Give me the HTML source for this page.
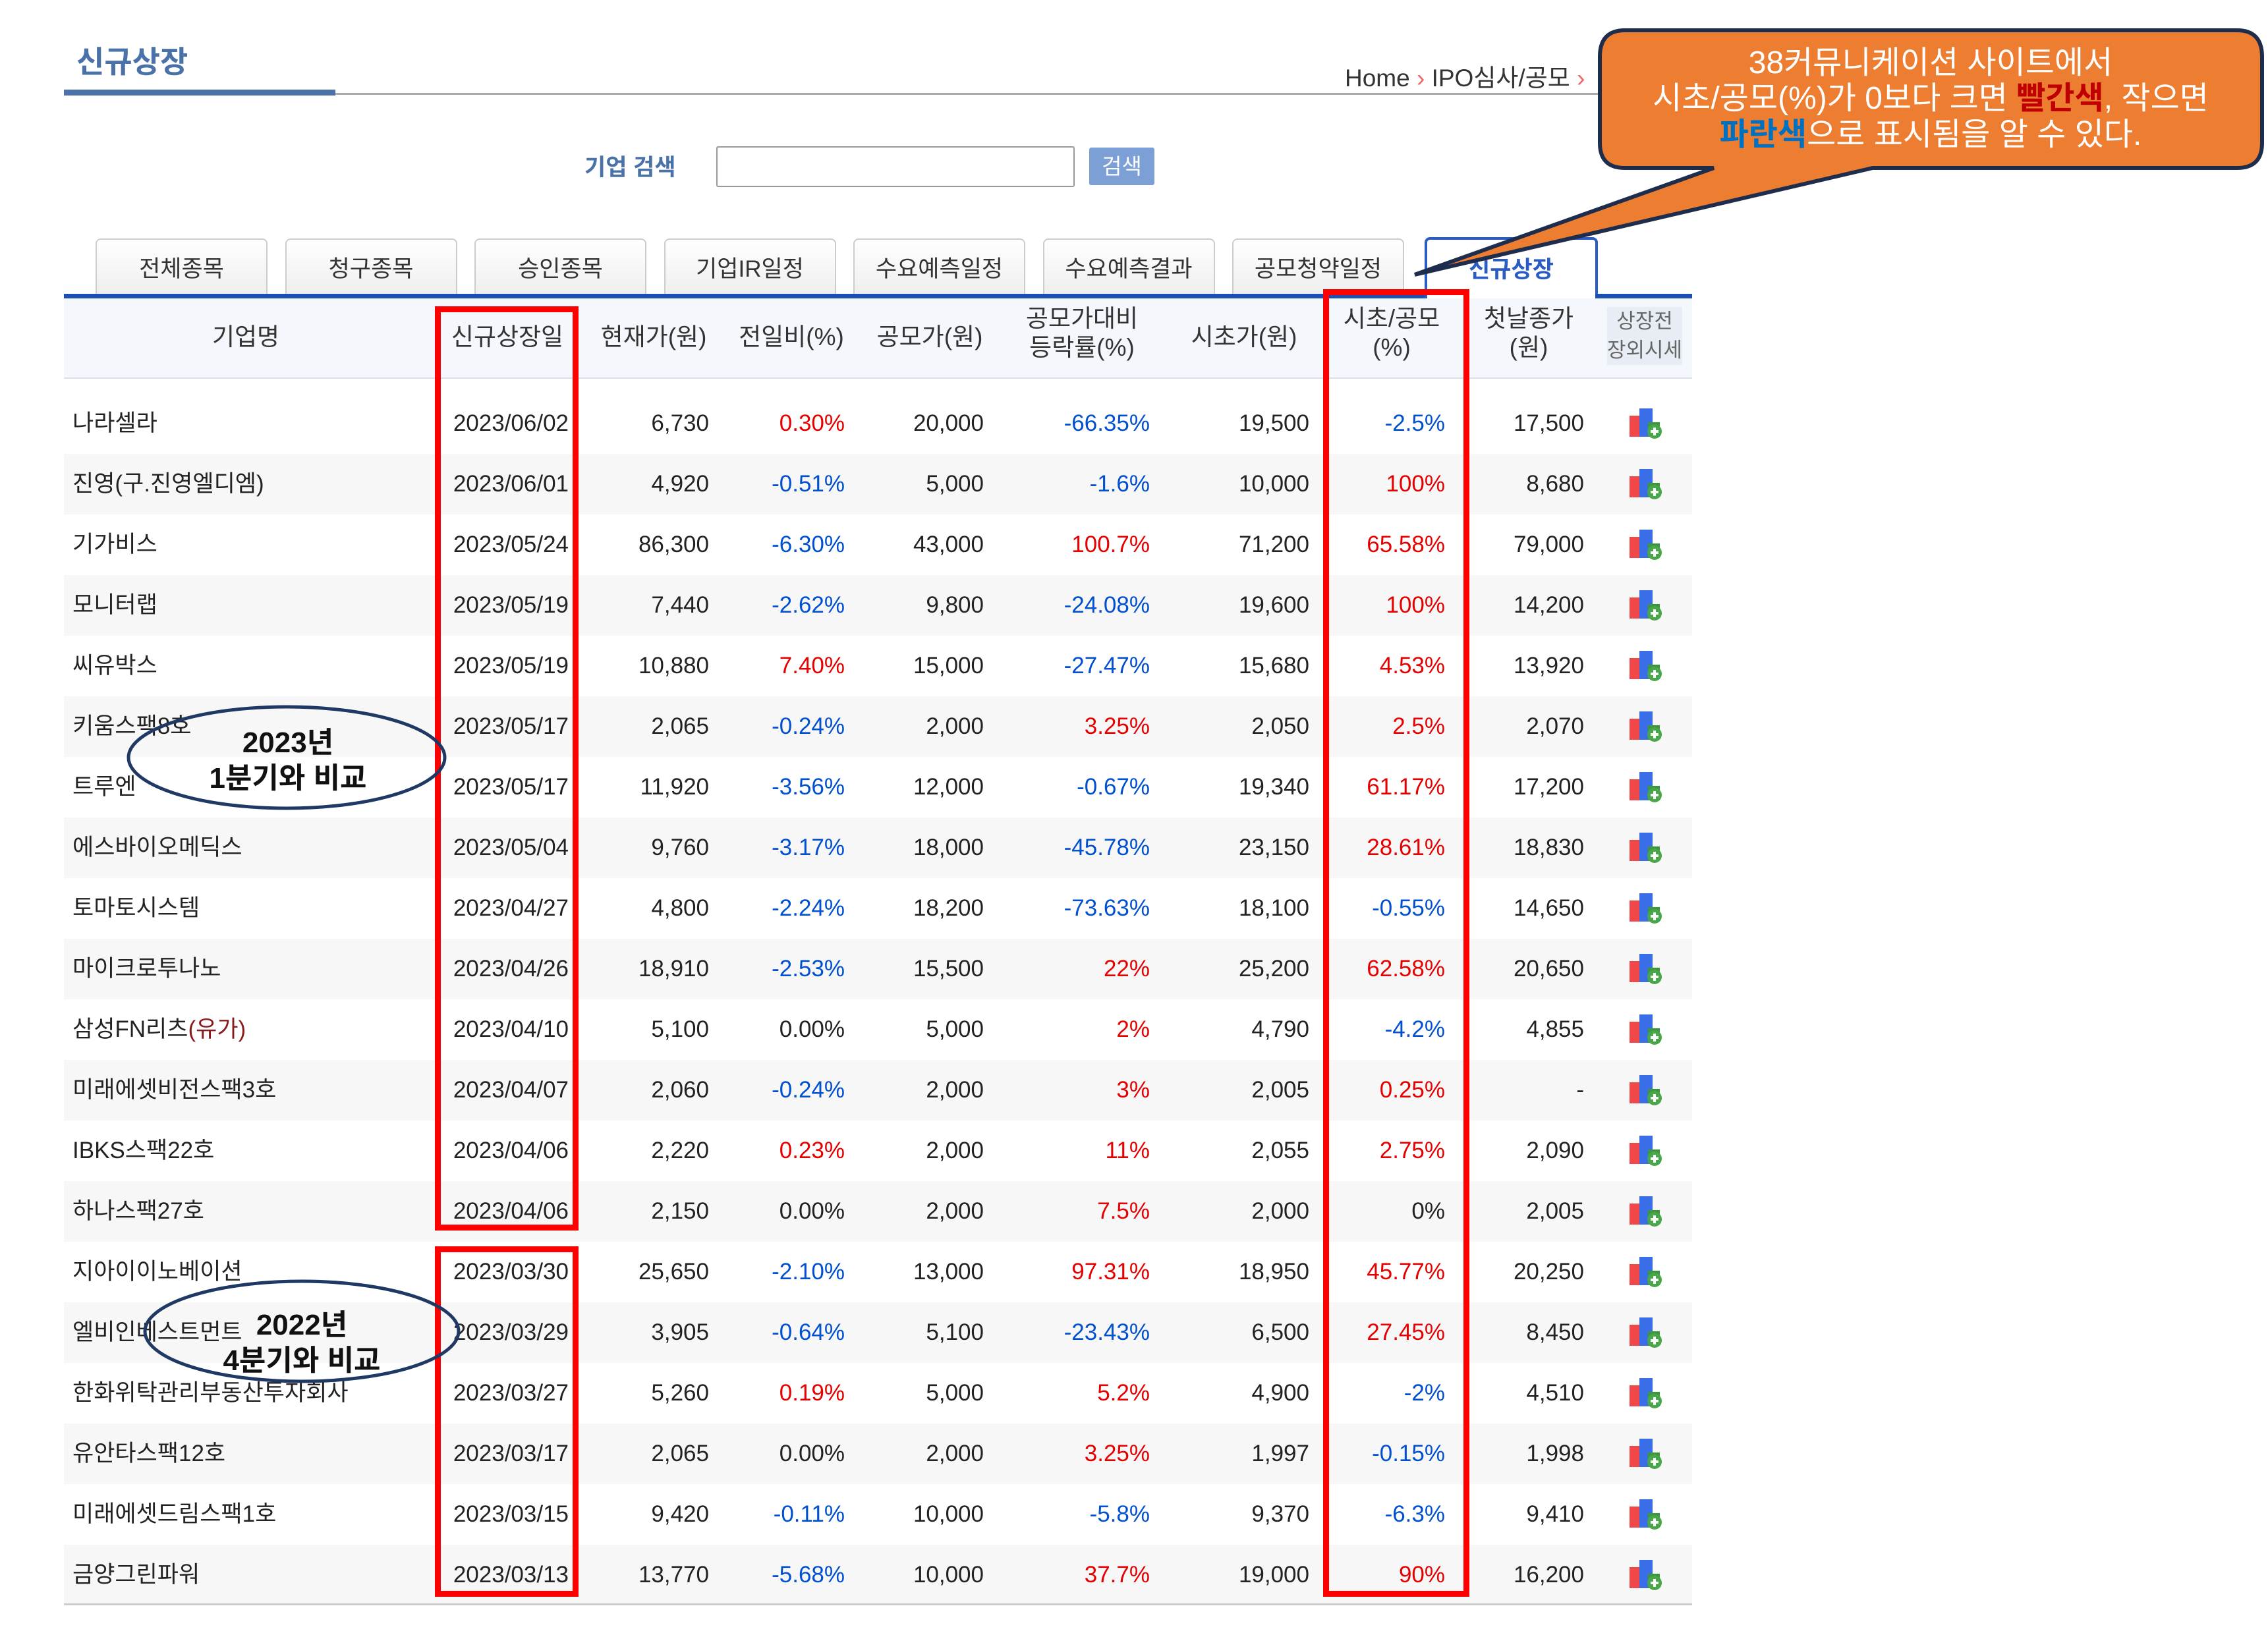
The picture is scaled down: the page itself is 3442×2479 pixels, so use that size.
<!DOCTYPE html>
<html><head><meta charset="utf-8">
<style>
body{margin:0;width:3442px;height:2479px;background:#fff;position:relative;overflow:hidden;font-family:"Liberation Sans","Noto Sans CJK KR",sans-serif;}
.a{position:absolute;}
.cell{position:absolute;font-size:35px;line-height:92px;height:92px;white-space:nowrap;color:#222;}
.th{position:absolute;font-size:37px;color:#333;text-align:center;transform:translateX(-50%);line-height:44px;white-space:nowrap;}
.tab{position:absolute;top:362px;height:84px;width:257px;border:2px solid #ccc;border-bottom:none;border-radius:8px 8px 0 0;background:linear-gradient(#fff,#eee);font-size:35px;color:#333;text-align:center;line-height:90px;}
</style></head><body>
<div class="a" style="left:116px;top:58px;font-size:46px;color:#4a72a8;font-weight:bold;">신규상장</div>
<div class="a" style="left:97px;top:136px;width:412px;height:9px;background:#4a72a8;"></div>
<div class="a" style="left:509px;top:141px;width:1916px;height:3px;background:#aaa;"></div>
<div class="a" style="left:2041px;top:88px;font-size:37px;color:#333;">Home <span style="color:#e66">›</span> IPO심사/공모 <span style="color:#e66">›</span></div>

<div class="a" style="left:887px;top:226px;font-size:35px;color:#4a72a8;font-weight:bold;">기업 검색</div>
<div class="a" style="left:1087px;top:222px;width:540px;height:58px;border:2px solid #999;border-radius:3px;"></div>
<div class="a" style="left:1653px;top:224px;width:99px;height:57px;background:#7c9fd6;color:#fff;font-size:33px;text-align:center;line-height:57px;border-radius:3px;">검색</div>

<div id="tabs"></div>
<div class="a" style="left:2162px;top:360px;width:255px;height:92px;border:4px solid #2a5cc4;border-bottom:none;border-radius:8px 8px 0 0;background:#fff;font-size:35px;color:#2a5cc4;font-weight:bold;text-align:center;line-height:92px;">신규상장</div>
<div class="a" style="left:97px;top:446px;width:2065px;height:7px;background:#1a4fb5;"></div>
<div class="a" style="left:2421px;top:446px;width:147px;height:7px;background:#1a4fb5;"></div>
<div class="a" style="left:97px;top:453px;width:2471px;height:120px;background:#f4f7fc;border-bottom:2px solid #dde;"></div>
<div id="heads"></div>
<div id="rows"></div>
<div class="a" style="left:97px;top:2434px;width:2471px;height:3px;background:#ccc;"></div>

<div class="a" style="left:660px;top:465px;width:200px;height:1385px;border:9px solid #f00;"></div>
<div class="a" style="left:660px;top:1892px;width:200px;height:514px;border:9px solid #f00;"></div>
<div class="a" style="left:2008px;top:439px;width:204px;height:1967px;border:9px solid #f00;"></div>

<svg class="a" style="left:0;top:0" width="3442" height="2479">
<ellipse cx="435" cy="1150" rx="240" ry="77" fill="none" stroke="#1f3864" stroke-width="5"/>
<text x="437" y="1142" font-size="44" font-weight="bold" text-anchor="middle" fill="#111" font-family="Liberation Sans, Noto Sans CJK KR, sans-serif">2023년</text>
<text x="437" y="1196" font-size="44" font-weight="bold" text-anchor="middle" fill="#111" font-family="Liberation Sans, Noto Sans CJK KR, sans-serif">1분기와 비교</text>
<ellipse cx="458" cy="2021" rx="238" ry="76" fill="none" stroke="#1f3864" stroke-width="5"/>
<text x="458" y="2026" font-size="44" font-weight="bold" text-anchor="middle" fill="#111" font-family="Liberation Sans, Noto Sans CJK KR, sans-serif">2022년</text>
<text x="458" y="2080" font-size="44" font-weight="bold" text-anchor="middle" fill="#111" font-family="Liberation Sans, Noto Sans CJK KR, sans-serif">4분기와 비교</text>
<path d="M2466,46 H3395 Q3433,46 3433,86 V217 Q3433,255 3395,255 H2842 L2147,417 L2601,255 H2466 Q2428,255 2428,217 V86 Q2428,46 2466,46 Z" fill="#ed7d31" stroke="#1f2d4d" stroke-width="6"/>
<g font-family="Liberation Sans, Noto Sans CJK KR, sans-serif" font-size="48" text-anchor="middle" fill="#fff">
<text x="2930" y="111">38커뮤니케이션 사이트에서</text>
<text x="2930" y="165">시초/공모(%)가 0보다 크면 <tspan fill="#c00000" font-weight="bold">빨간색</tspan>, 작으면</text>
<text x="2930" y="220"><tspan fill="#0070c0" font-weight="bold">파란색</tspan>으로 표시됨을 알 수 있다.</text>
</g>
</svg>

<script>
const tabLabels=["전체종목","청구종목","승인종목","기업IR일정","수요예측일정","수요예측결과","공모청약일정"];
const names=["나라셀라","진영(구.진영엘디엠)","기가비스","모니터랩","씨유박스","키움스팩8호","트루엔","에스바이오메딕스","토마토시스템","마이크로투나노","삼성FN리츠","미래에셋비전스팩3호","IBKS스팩22호","하나스팩27호","지아이이노베이션","엘비인베스트먼트","한화위탁관리부동산투자회사","유안타스팩12호","미래에셋드림스팩1호","금양그린파워"];
const dates=["2023/06/02","2023/06/01","2023/05/24","2023/05/19","2023/05/19","2023/05/17","2023/05/17","2023/05/04","2023/04/27","2023/04/26","2023/04/10","2023/04/07","2023/04/06","2023/04/06","2023/03/30","2023/03/29","2023/03/27","2023/03/17","2023/03/15","2023/03/13"];
const curPrice=["6,730","4,920","86,300","7,440","10,880","2,065","11,920","9,760","4,800","18,910","5,100","2,060","2,220","2,150","25,650","3,905","5,260","2,065","9,420","13,770"];
const dayChg=[0.30,-0.51,-6.30,-2.62,7.40,-0.24,-3.56,-3.17,-2.24,-2.53,0.00,-0.24,0.23,0.00,-2.10,-0.64,0.19,0.00,-0.11,-5.68];
const ipoPrice=["20,000","5,000","43,000","9,800","15,000","2,000","12,000","18,000","18,200","15,500","5,000","2,000","2,000","2,000","13,000","5,100","5,000","2,000","10,000","10,000"];
const ipoChg=["-66.35","-1.6","100.7","-24.08","-27.47","3.25","-0.67","-45.78","-73.63","22","2","3","11","7.5","97.31","-23.43","5.2","3.25","-5.8","37.7"];
const openPrice=["19,500","10,000","71,200","19,600","15,680","2,050","19,340","23,150","18,100","25,200","4,790","2,005","2,055","2,000","18,950","6,500","4,900","1,997","9,370","19,000"];
const openRatio=["-2.5","100","65.58","100","4.53","2.5","61.17","28.61","-0.55","62.58","-4.2","0.25","2.75","0","45.77","27.45","-2","-0.15","-6.3","90"];
const firstClose=["17,500","8,680","79,000","14,200","13,920","2,070","17,200","18,830","14,650","20,650","4,855","-","2,090","2,005","20,250","8,450","4,510","1,998","9,410","16,200"];
const headLabels=["기업명","신규상장일","현재가(원)","전일비(%)","공모가(원)","공모가대비<br>등락률(%)","시초가(원)","시초/공모<br>(%)","첫날종가<br>(원)","상장전<br>장외시세"];

const T=document.getElementById('tabs');
tabLabels.forEach((t,i)=>{const d=document.createElement('div');d.className='tab';d.style.left=(145+i*287.5)+'px';d.textContent=t;


T.appendChild(d);});
const hx=[373,770,992,1201,1411,1642,1888,2112,2320,2496];
const H=document.getElementById('heads');
headLabels.forEach((t,i)=>{const d=document.createElement('div');d.className='th';d.style.left=hx[i]+'px';
const two=t.includes('<br>');d.style.top=(two?(i==9?466:462):490)+'px';
if(i==9){d.style.fontSize='31px';d.style.color='#666';d.style.background='#e8edf5';}
d.innerHTML=t;


H.appendChild(d);});
const R=document.getElementById('rows');
function col(v){const n=parseFloat(v.replace(/,/g,''));return n>0?'#e60000':n<0?'#0050d0':'#222';}
function cell(parent,text,right,color,name){const d=document.createElement('div');d.className='cell';
d.style.right=(3442-right)+'px';d.style.color=color||'#222';d.innerHTML=text;


parent.appendChild(d);}
names.forEach((n,i)=>{
const row=document.createElement('div');row.className='a';row.style.left='0';row.style.top=(597+92*i)+'px';row.style.width='3442px';row.style.height='92px';


const bg=document.createElement('div');bg.className='a';bg.style.cssText='left:97px;top:0;width:2471px;height:92px;background:'+(i%2?'#f7f7f7':'#fff');row.appendChild(bg);
const nm=document.createElement('div');nm.className='cell';nm.style.left='110px';
nm.innerHTML=n=="삼성FN리츠"?n+'<span style="color:#8b1a1a">(유가)</span>':n;


row.appendChild(nm);
cell(row,dates[i],863,'#222','listing-date');
cell(row,curPrice[i],1076,'#222','current-price');
cell(row,dayChg[i].toFixed(2)+'%',1282,dayChg[i]>0?'#e60000':dayChg[i]<0?'#0050d0':'#222','day-change');
cell(row,ipoPrice[i],1493,'#222','ipo-price');
cell(row,ipoChg[i]+'%',1745,col(ipoChg[i]),'ipo-change');
cell(row,openPrice[i],1987,'#222','open-price');
cell(row,openRatio[i]+'%',2193,col(openRatio[i]),'open-ratio');
cell(row,firstClose[i],2404,'#222','first-close');
const ic=document.createElementNS('http://www.w3.org/2000/svg','svg');
ic.setAttribute('width','56');ic.setAttribute('height','50');ic.style.cssText='position:absolute;left:2471px;top:22px';
ic.innerHTML='<rect x="2" y="12" width="16" height="32" fill="#f04848"/><rect x="17" y="1" width="20" height="43" fill="#3a6ee8"/><rect x="30" y="22" width="18" height="22" fill="#3a9a3a"/><circle cx="40" cy="36" r="11" fill="#49a64a"/><path d="M40 30v12M34 36h12" stroke="#fff" stroke-width="4"/>';


row.appendChild(ic);
R.appendChild(row);});
</script>
</body></html>
